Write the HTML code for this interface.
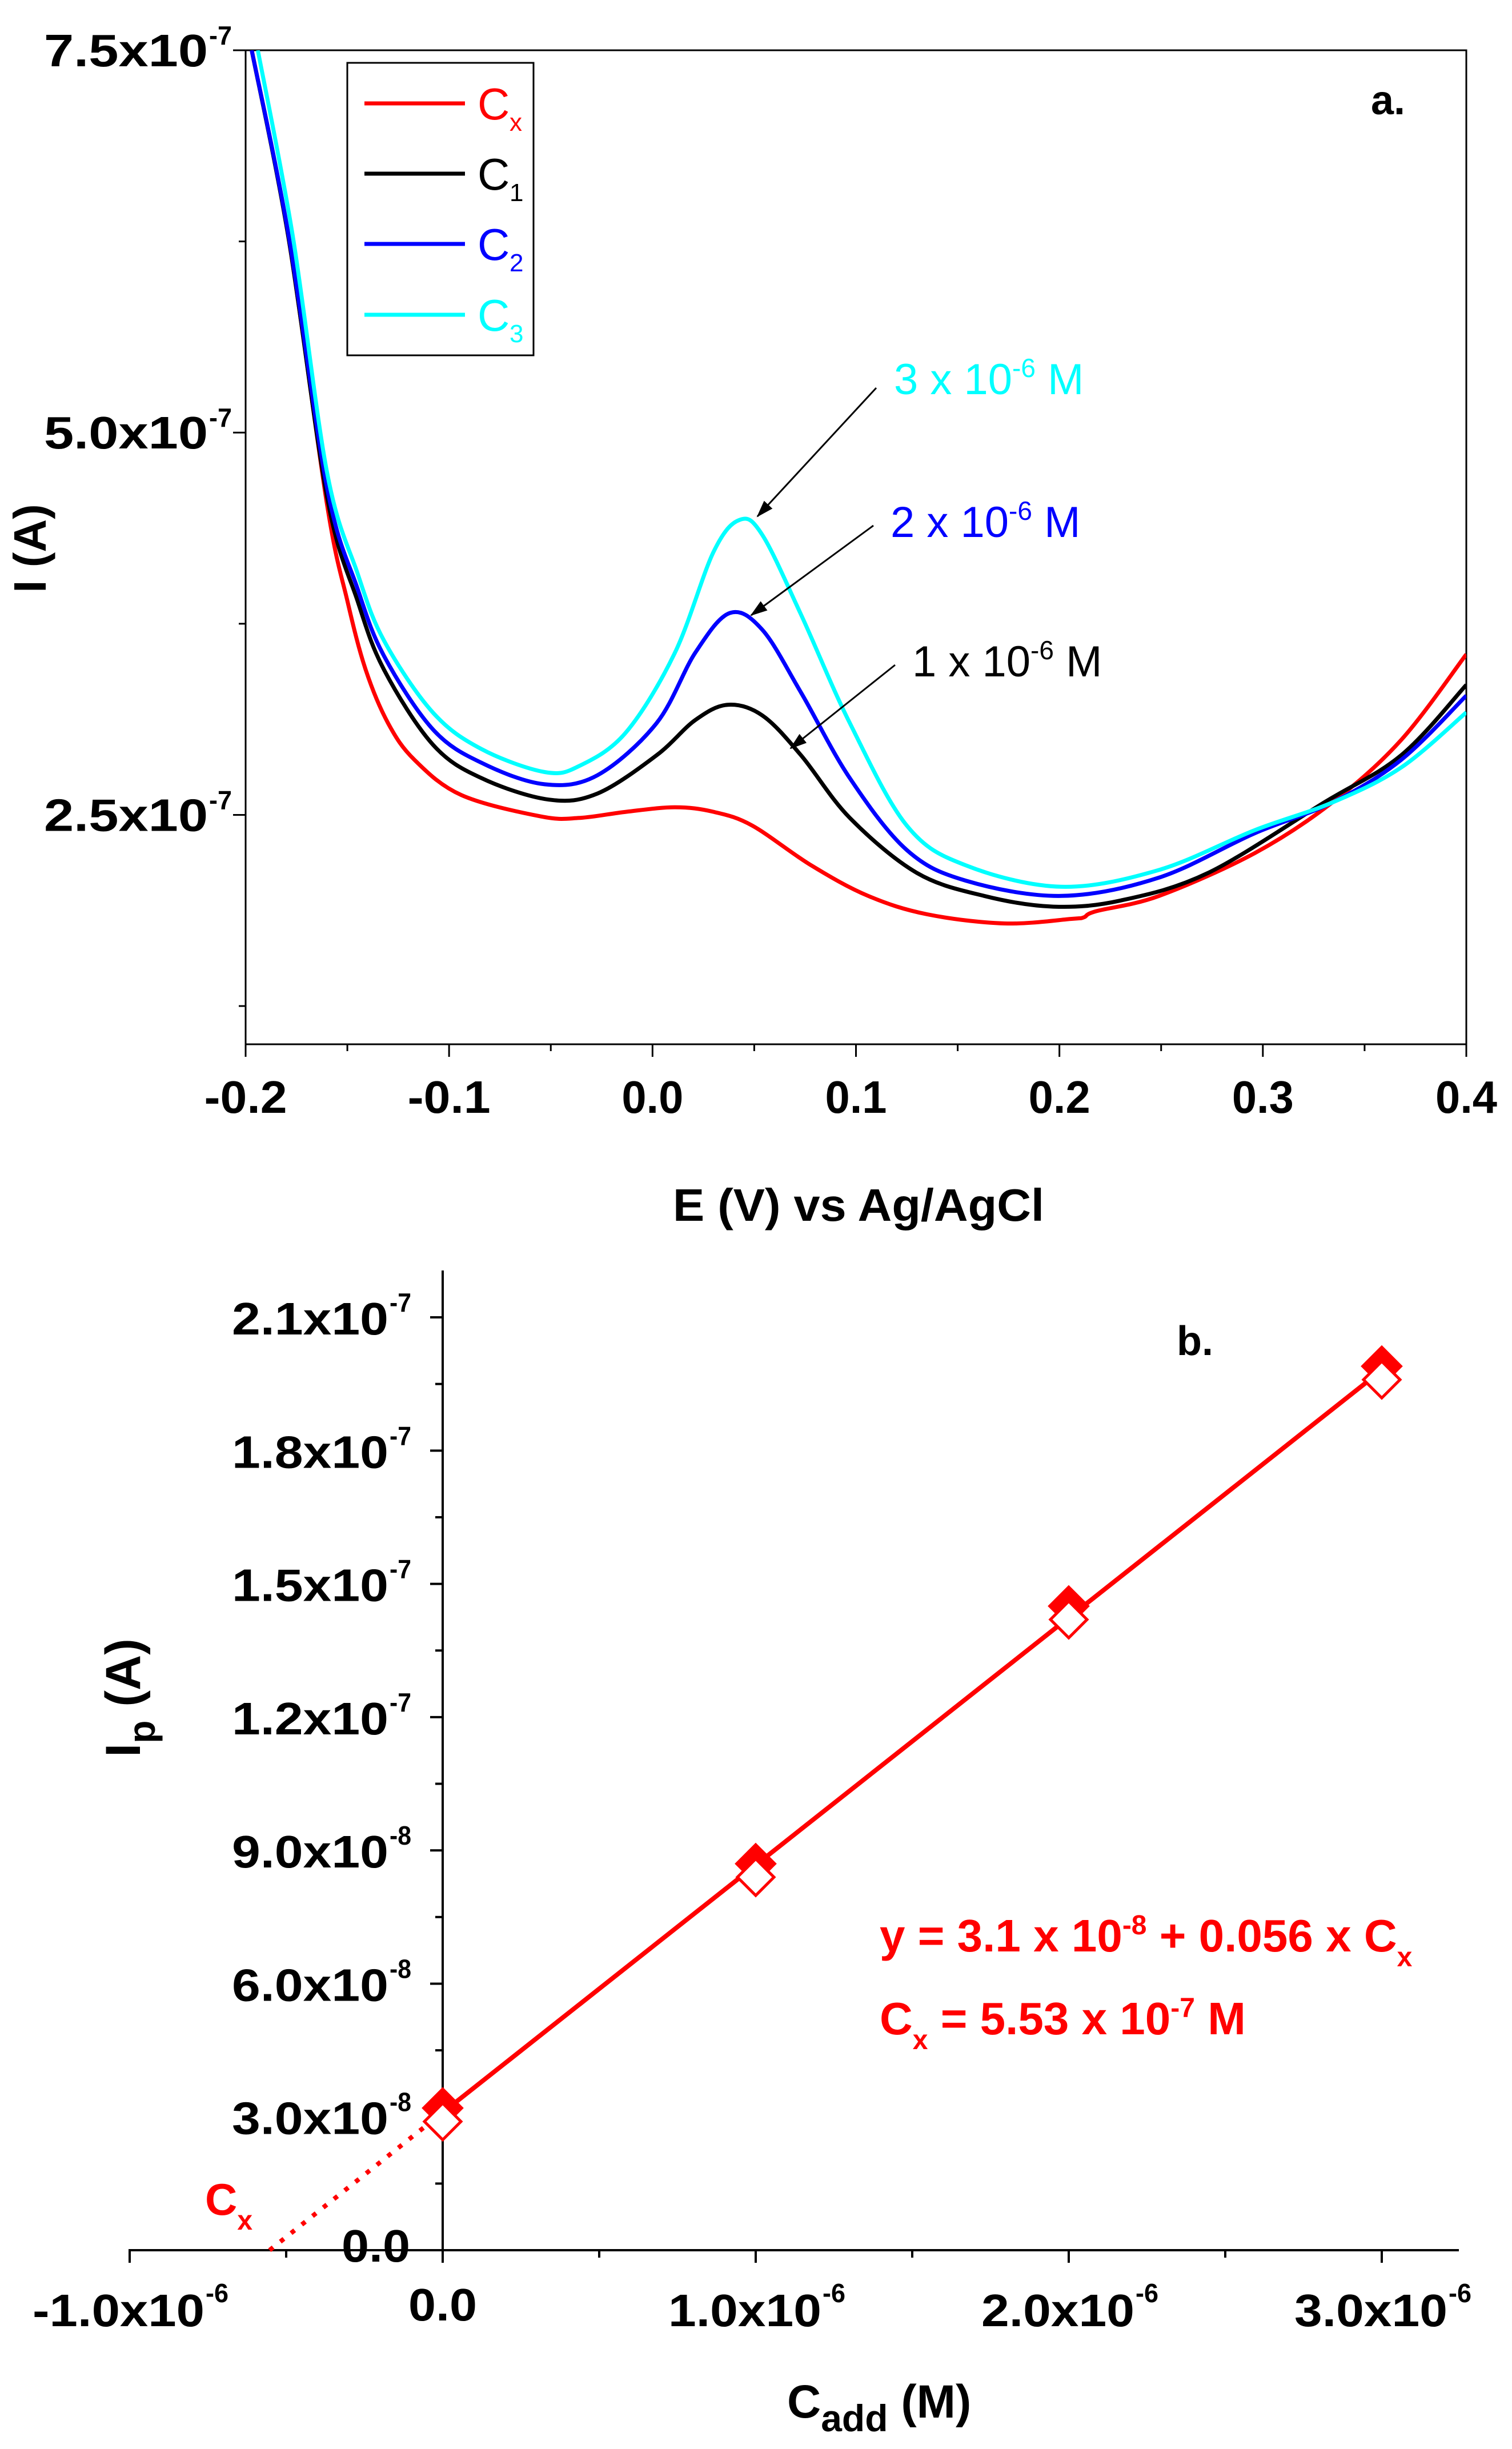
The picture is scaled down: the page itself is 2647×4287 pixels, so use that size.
<!DOCTYPE html>
<html><head><meta charset="utf-8"><style>
html,body{margin:0;padding:0;background:#fff;}
svg{display:block;font-family:"Liberation Sans",Arial,sans-serif;}
</style></head><body>
<svg id="chart" width="2647" height="4287" viewBox="0 0 2647 4287" xmlns="http://www.w3.org/2000/svg">
<g id="pa"></g>
<g id="pb"></g>
</svg>
<script>
// ---------- Panel a data ----------
const aXTicks = [-0.2,-0.1,0.0,0.1,0.2,0.3,0.4];
const aXTickLabels = ["-0.2","-0.1","0.0","0.1","0.2","0.3","0.4"];
const aYTicks = [2.5e-7,5.0e-7,7.5e-7];
const aYTickLabels = ["2.5x10","5.0x10","7.5x10"];
const seriesNames = ["Cx","C1","C2","C3"];
const seriesColors = ["#ff0000","#000000","#0000ff","#00ffff"];
const cxE = [-0.197,-0.179,-0.160,-0.150,-0.141,-0.130,-0.117,-0.094,-0.055,-0.036,-0.013,0.011,0.030,0.049,0.078,0.106,0.135,0.173,0.206,0.212,0.218,0.249,0.296,0.334,0.368,0.4];
const cxI = [7.5,6.28,4.53,3.90,3.45,3.10,2.86,2.63,2.49,2.48,2.52,2.55,2.52,2.43,2.17,1.97,1.85,1.79,1.82,1.83,1.87,1.97,2.25,2.58,2.99,3.55];
const c1E = [-0.197,-0.179,-0.160,-0.145,-0.132,-0.108,-0.084,-0.051,-0.027,0.002,0.021,0.037,0.054,0.073,0.097,0.130,0.163,0.197,0.230,0.273,0.330,0.368,0.4];
const c1I = [7.5,6.28,4.58,3.90,3.45,2.96,2.74,2.60,2.64,2.89,3.12,3.22,3.15,2.89,2.48,2.12,1.97,1.90,1.94,2.12,2.58,2.89,3.35];
const c2E = [-0.197,-0.179,-0.160,-0.145,-0.132,-0.108,-0.084,-0.053,-0.027,0.002,0.021,0.038,0.054,0.073,0.097,0.125,0.154,0.201,0.249,0.296,0.334,0.368,0.4];
const c2I = [7.5,6.3,4.64,3.98,3.54,3.06,2.84,2.70,2.76,3.10,3.56,3.82,3.71,3.30,2.74,2.27,2.07,1.97,2.09,2.38,2.58,2.86,3.28];
const c3E = [-0.194,-0.177,-0.160,-0.145,-0.132,-0.108,-0.084,-0.053,-0.036,-0.013,0.011,0.030,0.043,0.054,0.073,0.097,0.125,0.154,0.201,0.249,0.296,0.334,0.368,0.4];
const c3I = [7.5,6.3,4.74,4.08,3.64,3.17,2.93,2.78,2.82,3.04,3.56,4.22,4.43,4.33,3.81,3.10,2.43,2.17,2.03,2.14,2.40,2.58,2.81,3.17];
// ---------- Panel b data ----------
const bXTicks = [-1e-6,0,1e-6,2e-6,3e-6];
const bXTickLabels = ["-1.0x10","0.0","1.0x10","2.0x10","3.0x10"];
const bYTicks = [0,3e-8,6e-8,9e-8,1.2e-7,1.5e-7,1.8e-7,2.1e-7];
const bYTickLabels = ["0.0","3.0x10","6.0x10","9.0x10","1.2x10","1.5x10","1.8x10","2.1x10"];
const bYTickExp = ["","-8","-8","-8","-7","-7","-7","-7"];
const cAdd = [0,1e-6,2e-6,3e-6];
const ipFilled = [3.2e-8,8.7e-8,1.45e-7,1.99e-7];
const ipOpen = [3.0e-8,8.5e-8,1.43e-7,1.97e-7];
const fitIntercept = 3.1e-8;
const fitSlope = 0.0557;
const cxValue = -5.53e-7;

const NS="http://www.w3.org/2000/svg";
function mk(parent,tag,attrs,text){const e=document.createElementNS(NS,tag);for(const k in attrs)e.setAttribute(k,attrs[k]);if(text!==undefined)e.textContent=text;parent.appendChild(e);return e;}

// ---------- Panel a ----------
const pa=document.getElementById('pa');
const aL=430,aR=2567,aT=88,aB=1828;
const ax=v=>aL+(v+0.2)/0.6*(aR-aL);
const ay=v=>aB-(v-1.0e-7)/6.5e-7*(aB-aT);
mk(pa,'defs',{}).innerHTML='<clipPath id="clipA"><rect x="430" y="88" width="2137" height="1740"/></clipPath><marker id="arr" markerWidth="30" markerHeight="30" refX="28" refY="15" orient="auto" markerUnits="userSpaceOnUse" viewBox="0 0 30 30"><path d="M0,5 L30,15 L0,25 z" fill="#000"/></marker>';
let fr=mk(pa,'rect',{x:aL,y:aT,width:aR-aL,height:aB-aT,fill:'none',stroke:'#000','stroke-width':3});

for(let i=0;i<aXTicks.length;i++){
  const x=ax(aXTicks[i]);
  mk(pa,'line',{x1:x,y1:aB,x2:x,y2:aB+22,stroke:'#000','stroke-width':3});
  const w=aXTickLabels[i][0]==='-'?145:108;
  const t=mk(pa,'text',{x:x-w/2,y:1948,'font-size':80,'font-weight':'bold',textLength:w,lengthAdjust:'spacingAndGlyphs'},aXTickLabels[i]);
  
  if(i<aXTicks.length-1){const xm=ax(aXTicks[i]+0.05);mk(pa,'line',{x1:xm,y1:aB,x2:xm,y2:aB+12,stroke:'#000','stroke-width':3});}
}
[1.25e-7,3.75e-7,6.25e-7].forEach(v=>mk(pa,'line',{x1:aL-12,y1:ay(v),x2:aL,y2:ay(v),stroke:'#000','stroke-width':3}));
for(let i=0;i<aYTicks.length;i++){
  const y=ay(aYTicks[i]);
  mk(pa,'line',{x1:aL-22,y1:y,x2:aL,y2:y,stroke:'#000','stroke-width':3});
  const t=mk(pa,'text',{x:77,y:y+28,'font-size':80,'font-weight':'bold',textLength:287,lengthAdjust:'spacingAndGlyphs'},aYTickLabels[i]);
  
  mk(pa,'text',{x:366,y:y-10,'font-size':46,'font-weight':'bold',textLength:40,lengthAdjust:'spacingAndGlyphs'},'-7');
}
let xt=mk(pa,'text',{x:1178,y:2137,'font-size':80,'font-weight':'bold',textLength:650,lengthAdjust:'spacingAndGlyphs'},'E (V) vs Ag/AgCl');

let yt=mk(pa,'text',{x:0,y:0,'font-size':80,'font-weight':'bold','text-anchor':'middle',transform:'translate(80,960) rotate(-90)'},'I (A)');


function smooth(pts){
  let d='M'+pts[0][0].toFixed(1)+','+pts[0][1].toFixed(1);
  for(let i=0;i<pts.length-1;i++){
    const p0=pts[Math.max(0,i-1)],p1=pts[i],p2=pts[i+1],p3=pts[Math.min(pts.length-1,i+2)];
    const c1x=p1[0]+(p2[0]-p0[0])/6,c1y=p1[1]+(p2[1]-p0[1])/6,c2x=p2[0]-(p3[0]-p1[0])/6,c2y=p2[1]-(p3[1]-p1[1])/6;
    d+=' C'+c1x.toFixed(1)+','+c1y.toFixed(1)+' '+c2x.toFixed(1)+','+c2y.toFixed(1)+' '+p2[0].toFixed(1)+','+p2[1].toFixed(1);
  }
  return d;
}
const Es=[cxE,c1E,c2E,c3E],Is=[cxI,c1I,c2I,c3I];
const cg=mk(pa,'g',{'clip-path':'url(#clipA)'});
for(let s=0;s<4;s++){
  const pts=Es[s].map((e,i)=>[ax(e),ay(Is[s][i]*1e-7)]);
  const p=mk(cg,'path',{d:smooth(pts),fill:'none',stroke:seriesColors[s],'stroke-width':7,'stroke-linejoin':'round'});
  
  
}
// legend
const lg=mk(pa,'g',{});

mk(lg,'rect',{x:608,y:110,width:326,height:512,fill:'#fff',stroke:'#000','stroke-width':3});
const subs=['x','1','2','3'];const ly=[181,304,427,551];
for(let s=0;s<4;s++){
  const e=mk(lg,'g',{});
  
  mk(e,'line',{x1:638,y1:ly[s],x2:814,y2:ly[s],stroke:seriesColors[s],'stroke-width':7});
  mk(e,'text',{x:836,y:ly[s]+28,'font-size':78,fill:seriesColors[s]},'C');
  mk(e,'text',{x:892,y:ly[s]+48,'font-size':44,fill:seriesColors[s]},subs[s]);
}
let la=mk(pa,'text',{x:2400,y:200,'font-size':72,'font-weight':'bold'},'a.');

const ann=[["3","#00ffff",1565,690,[1534,699,1326,904]],["2","#0000ff",1559,940,[1529,940,1315,1077]],["1","#000000",1597,1184,[1567,1184,1384,1310]]];
ann.forEach(a=>{
  const g=mk(pa,'g',{});
  
  const t=mk(g,'text',{x:a[2],y:a[3],'font-size':76,fill:a[1]});
  t.innerHTML=a[0]+' x 10<tspan dy="-30" font-size="46">-6</tspan><tspan dy="30"> M</tspan>';
  mk(g,'line',{x1:a[4][0],y1:a[4][1]-20,x2:a[4][2],y2:a[4][3],stroke:'#000','stroke-width':3,'marker-end':'url(#arr)'});
});

// ---------- Panel b ----------
const pb=document.getElementById('pb');
const bx=v=>775+v/1e-6*548;
const by=v=>3939-v/1e-8*77.76;
mk(pb,'line',{x1:225,y1:3939,x2:2554,y2:3939,stroke:'#000','stroke-width':4});
mk(pb,'line',{x1:775,y1:2224,x2:775,y2:3939,stroke:'#000','stroke-width':4});
for(let i=0;i<bXTicks.length;i++){
  const x=bx(bXTicks[i]);
  mk(pb,'line',{x1:x,y1:3939,x2:x,y2:3961,stroke:'#000','stroke-width':4});
  let t;
  if(bXTicks[i]===0){
    t=mk(pb,'text',{x:x-60,y:4062,'font-size':80,'font-weight':'bold',textLength:120,lengthAdjust:'spacingAndGlyphs'},bXTickLabels[i]);
  } else {
    const neg=bXTicks[i]<0, w=neg?301:268, x0=neg?x-170:x-153;
    t=mk(pb,'text',{x:x0,y:4072,'font-size':80,'font-weight':'bold',textLength:w,lengthAdjust:'spacingAndGlyphs'},bXTickLabels[i]);
    mk(pb,'text',{x:x0+w+2,y:4030,'font-size':46,'font-weight':'bold',textLength:40,lengthAdjust:'spacingAndGlyphs'},'-6');
  }
  
  const xm=bx(bXTicks[i]+0.5e-6);
  if(xm<2554) mk(pb,'line',{x1:xm,y1:3939,x2:xm,y2:3952,stroke:'#000','stroke-width':4});
}
for(let i=0;i<bYTicks.length;i++){
  const y=by(bYTicks[i]);
  mk(pb,'line',{x1:753,y1:y,x2:775,y2:y,stroke:'#000','stroke-width':4});
  const ym=by(bYTicks[i]+1.5e-8);if(i<bYTicks.length-1) mk(pb,'line',{x1:762,y1:ym,x2:775,y2:ym,stroke:'#000','stroke-width':4});
  let t;
  if(bYTickExp[i]){
    t=mk(pb,'text',{x:406,y:y+30,'font-size':80,'font-weight':'bold',textLength:274,lengthAdjust:'spacingAndGlyphs'},bYTickLabels[i]);
    mk(pb,'text',{x:682,y:y-10,'font-size':46,'font-weight':'bold',textLength:38,lengthAdjust:'spacingAndGlyphs'},bYTickExp[i]);
  } else {
    t=mk(pb,'text',{x:598,y:y+20,'font-size':80,'font-weight':'bold',textLength:120,lengthAdjust:'spacingAndGlyphs'},bYTickLabels[i]);
  }
  
}
let bxt=mk(pb,'text',{x:1378,y:4232,'font-size':82,'font-weight':'bold'});
bxt.innerHTML='C<tspan dy="24" font-size="66">add</tspan><tspan dy="-24"> (M)</tspan>';

let byt=mk(pb,'text',{x:0,y:0,'font-size':86,'font-weight':'bold','text-anchor':'middle',transform:'translate(245,2972) rotate(-90)'});
byt.innerHTML='I<tspan dy="26" font-size="66">p</tspan><tspan dy="-26"> (A)</tspan>';

const fl=mk(pb,'line',{x1:bx(0),y1:by(fitIntercept),x2:bx(cAdd[3]),y2:by(fitIntercept+fitSlope*cAdd[3]),stroke:'#ff0000','stroke-width':8});

const ex=mk(pb,'line',{x1:bx(cxValue),y1:by(0),x2:bx(0),y2:by(fitIntercept),stroke:'#ff0000','stroke-width':8,'stroke-dasharray':'8 16'});

for(let i=0;i<cAdd.length;i++){
  const x=bx(cAdd[i]);
  let y=by(ipFilled[i]);
  const f=mk(pb,'path',{d:`M${x},${y-34} L${x+34},${y} L${x},${y+34} L${x-34},${y} Z`,fill:'#ff0000',stroke:'#ff0000','stroke-width':4});
  
  y=by(ipOpen[i])+8;
  const o=mk(pb,'path',{d:`M${x},${y-32} L${x+32},${y} L${x},${y+32} L${x-32},${y} Z`,fill:'#fff',stroke:'#ff0000','stroke-width':5});
  
}
let lb=mk(pb,'text',{x:2060,y:2372,'font-size':72,'font-weight':'bold'},'b.');

let eq1=mk(pb,'text',{x:1540,y:3416,'font-size':80,'font-weight':'bold',fill:'#ff0000'});
eq1.innerHTML='y = 3.1 x 10<tspan dy="-30" font-size="48">-8</tspan><tspan dy="30"> + 0.056 x C</tspan><tspan dy="26" font-size="48">x</tspan>';

let eq2=mk(pb,'text',{x:1540,y:3561,'font-size':80,'font-weight':'bold',fill:'#ff0000'});
eq2.innerHTML='C<tspan dy="26" font-size="48">x</tspan><tspan dy="-26"> = 5.53 x 10</tspan><tspan dy="-30" font-size="48">-7</tspan><tspan dy="30"> M</tspan>';

let cxl=mk(pb,'text',{x:359,y:3877,'font-size':78,'font-weight':'bold',fill:'#ff0000'});
cxl.innerHTML='C<tspan dy="26" font-size="48">x</tspan>';

</script>
</body></html>
